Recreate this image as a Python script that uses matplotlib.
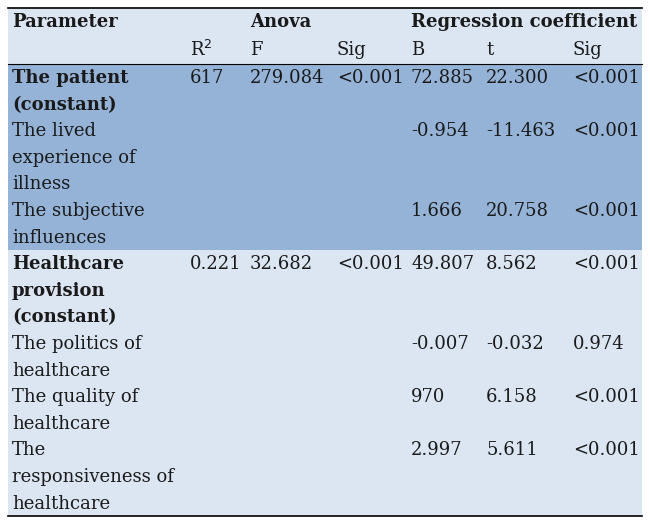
import matplotlib.pyplot as plt
from matplotlib.patches import Rectangle

W, H = 650, 524
COLORS = {"head": "#dce6f2", "patient": "#95b3d7", "health": "#dce6f2", "text": "#1a1a1a"}

col_x = [12, 190, 250, 337, 411, 486, 573]
line_h = 26.6

# rows: (parameter lines, R2, F, Sig, B, t, Sig, bold)
params = [
    ["The patient", "(constant)"],
    ["The lived", "experience of", "illness"],
    ["The subjective", "influences"],
    ["Healthcare", "provision", "(constant)"],
    ["The politics of", "healthcare"],
    ["The quality of", "healthcare"],
    ["The", "responsiveness of", "healthcare"],
]
r2 = ["617", "", "", "0.221", "", "", ""]
f_vals = ["279.084", "", "", "32.682", "", "", ""]
anova_sig = ["<0.001", "", "", "<0.001", "", "", ""]
b_vals = ["72.885", "-0.954", "1.666", "49.807", "-0.007", "970", "2.997"]
t_vals = ["22.300", "-11.463", "20.758", "8.562", "-0.032", "6.158", "5.611"]
reg_sig = ["<0.001", "<0.001", "<0.001", "<0.001", "0.974", "<0.001", "<0.001"]
bold_rows = [0, 3]
section = ["patient"] * 3 + ["health"] * 4

fig = plt.figure(figsize=(W / 100, H / 100), dpi=100)
ax = fig.add_axes([0, 0, 1, 1])
ax.set_xlim(0, W)
ax.set_ylim(H, 0)
ax.axis("off")

font = dict(family="DejaVu Serif", fontsize=13, color=COLORS["text"], va="center", ha="left")

top, head_bot = 8, 64
ax.add_patch(Rectangle((8, top), 634, head_bot - top, fc=COLORS["head"], ec="none"))
ax.text(col_x[0], 22, "Parameter", fontweight="bold", **font)
ax.text(col_x[2], 22, "Anova", fontweight="bold", **font)
ax.text(col_x[4], 22, "Regression coefficient", fontweight="bold", **font)
for x, lab in zip(col_x[1:], ["R$^2$", "F", "Sig", "B", "t", "Sig"]):
    ax.text(x, 50, lab, **font)

y = head_bot
for i, p in enumerate(params):
    h = len(p) * line_h
    ax.add_patch(Rectangle((8, y), 634, h, fc=COLORS[section[i]], ec="none"))
    y0 = y + 14
    for k, ln in enumerate(p):
        ax.text(col_x[0], y0 + k * line_h, ln,
                fontweight="bold" if i in bold_rows else "normal", **font)
    for x, v in zip(col_x[1:], [r2[i], f_vals[i], anova_sig[i], b_vals[i], t_vals[i], reg_sig[i]]):
        if v:
            ax.text(x, y0, v, **font)
    y += h

ax.plot([8, 642], [top, top], color="black", lw=1.2)
ax.plot([8, 642], [head_bot, head_bot], color="black", lw=0.8)
ax.plot([8, 642], [y, y], color="black", lw=1.2)

fig.savefig("out.png", dpi=100)
